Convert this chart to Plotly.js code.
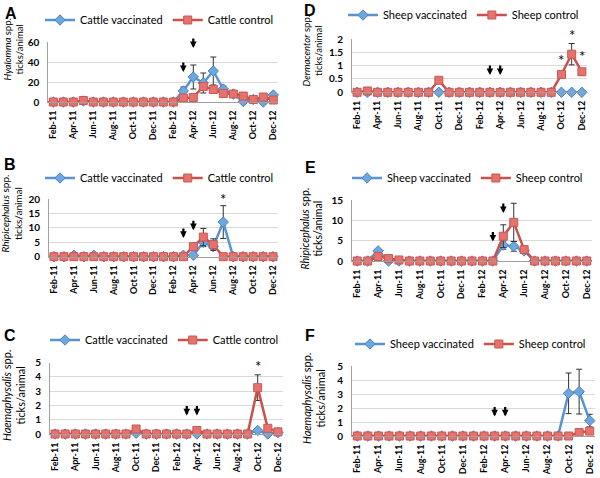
<!DOCTYPE html>
<html>
<head>
<meta charset="utf-8">
<script src="https://cdn.plot.ly/plotly-3.0.1.min.js"></script>
<style>
  html, body { margin: 0; padding: 0; background: #fff; }
  #myDiv { width: 600px; height: 478px; }
</style>
</head>
<body>
<div id="myDiv"></div>
<script>
// months, one point each, labels every second month
var months = ['Feb-11','Mar-11','Apr-11','May-11','Jun-11','Jul-11','Aug-11','Sep-11','Oct-11','Nov-11','Dec-11','Jan-12',
              'Feb-12','Mar-12','Apr-12','May-12','Jun-12','Jul-12','Aug-12','Sep-12','Oct-12','Nov-12','Dec-12'];
var tickMonths = ['Feb-11','Apr-11','Jun-11','Aug-11','Oct-11','Dec-11','Feb-12','Apr-12','Jun-12','Aug-12','Oct-12','Dec-12'];
var n = null;

// A - Hyalomma, cattle
var aVacc = [0,0,0,1,0,0,0,0,0,0,0,0,0,11,25,19,31,13,8,0.5,2.5,0,7];
var aCtrl = [0,0,0,1.5,0,0,0,0,0,0,0,0,0,4,4.5,15.5,12.5,8.5,8,6,2.5,5,2];
var aVaccErr = [n,n,n,n,n,n,n,n,n,n,n,n,n,4,12,10,14,3,n,n,n,n,n];
var aCtrlErr = [n,n,n,n,n,n,n,n,n,n,n,n,n,n,n,n,n,n,n,n,n,n,n];

// B - Rhipicephalus, cattle
var bVacc = [0,0,0.5,0,0.5,0,0,0,0,0,0,0,0,0.5,0.5,5,3.5,12,0,0,0,0,0];
var bCtrl = [0,0,0,0,0,0,0,0,0,0,0,0,0,0,3.5,6.8,4.2,0,0,0,0,0,0];
var bVaccErr = [n,n,n,n,n,n,n,n,n,n,n,n,n,n,n,1.5,n,5.7,n,n,n,n,n];
var bCtrlErr = [n,n,n,n,n,n,n,n,n,n,n,n,n,n,n,3,2,n,n,n,n,n,n];

// C - Haemaphysalis, cattle
var cVacc = [0,0,0,0,0,0,0,0,0.05,0,0,0,0,0,0,0,0,0,0,0,0.25,0,0.1];
var cCtrl = [0,0,0,0,0,0,0,0,0.35,0,0,0,0,0,0.25,0,0,0,0,0,3.25,0.4,0.15];
var cVaccErr = [n,n,n,n,n,n,n,n,n,n,n,n,n,n,n,n,n,n,n,n,n,n,n];
var cCtrlErr = [n,n,n,n,n,n,n,n,n,n,n,n,n,n,n,n,n,n,n,n,0.9,n,n];

// D - Dermacentor, sheep
var dVacc = [0,0,0,0,0,0,0,0,0,0,0,0,0,0,0,0,0,0,0,0,0,0,0];
var dCtrl = [0,0.05,0,0,0,0,0,0,0.45,0,0,0,0,0,0,0,0,0,0,0,0.67,1.43,0.77];
var dVaccErr = [n,n,n,n,n,n,n,n,n,n,n,n,n,n,n,n,n,n,n,n,n,n,n];
var dCtrlErr = [n,n,n,n,n,n,n,n,n,n,n,n,n,n,n,n,n,n,n,n,0.08,0.4,0.12];

// E - Rhipicephalus, sheep
var eVacc = [0,0,2.5,0,0,0,0,0,0,0,0,0,0,0,3.9,3.6,2.5,0,0,0,0,0,0];
var eCtrl = [0,0,1.1,0.6,0.25,0,0,0,0,0,0,0,0,0,6.1,9.5,2.8,0,0,0,0,0,0];
var eVaccErr = [n,n,n,n,n,n,n,n,n,n,n,n,n,n,1,1.2,n,n,n,n,n,n,n];
var eCtrlErr = [n,n,n,n,n,n,n,n,n,n,n,n,n,n,2.8,4.7,n,n,n,n,n,n,n];

// F - Haemaphysalis, sheep
var fVacc = [0,0,0,0,0,0,0,0,0,0,0,0,0,0,0,0,0,0,0,0,3.05,3.17,1.1];
var fCtrl = [0,0,0,0,0,0,0,0,0,0,0,0,0,0,0,0,0,0,0,0,0,0.25,0.35];
var fVaccErr = [n,n,n,n,n,n,n,n,n,n,n,n,n,n,n,n,n,n,n,n,1.45,1.6,0.45];
var fCtrlErr = [n,n,n,n,n,n,n,n,n,n,n,n,n,n,n,n,n,n,n,n,n,n,n];

// vaccination arrows (Mar-12, Apr-12): tip value per panel
var arrowMonths = ['Mar-12','Apr-12'];
var aArrows = [30, 54];
var bArrows = [6.5, 9.2];
var cArrows = [1.3, 1.3];
var dArrows = [0.65, 0.65];
var eArrows = [4.8, 11.8];
var fArrows = [1.4, 1.4];

// significance stars
var bStars = [['Jul-12', 21]];
var cStars = [['Oct-12', 4.95]];
var dStars = [['Oct-12', 1.33], ['Nov-12', 2.27], ['Dec-12', 1.46]];

var W = 600, H = 478;
var FONT = 'Lato, sans-serif';
var BLUE = '#5a93d2', BLUE_MK = '#6ea6de', RED = '#c9504b', RED_MK = '#e7716c';

var panels = [
  {id:'', letter:'A', lx:3, ly:13, vacc:aVacc, ctrl:aCtrl, vErr:aVaccErr, cErr:aCtrlErr, animal:'Cattle',
   x0:48.3, x1:278.3, yb:102, yt:42, ymax:60, dtick:20, legX:40, legY:20,
   tx:12.5, ty:50, genus:'Hyalomma', tsize:9.5, arrows:aArrows, stars:[]},
  {id:'2', letter:'B', lx:2, ly:164, vacc:bVacc, ctrl:bCtrl, vErr:bVaccErr, cErr:bCtrlErr, animal:'Cattle',
   x0:49, x1:278, yb:256.7, yt:199, ymax:20, dtick:5, legX:40, legY:178,
   tx:10.5, ty:214, genus:'Rhipicephalus', tsize:10, arrows:bArrows, stars:bStars},
  {id:'3', letter:'C', lx:2, ly:335, vacc:cVacc, ctrl:cCtrl, vErr:cVaccErr, cErr:cCtrlErr, animal:'Cattle',
   x0:50, x1:283, yb:434, yt:362.7, ymax:5, dtick:1, legX:45, legY:340,
   tx:13, ty:396, genus:'Haemaphysalis', tsize:11, arrows:cArrows, stars:cStars},
  {id:'4', letter:'D', lx:302, ly:10, vacc:dVacc, ctrl:dCtrl, vErr:dVaccErr, cErr:dCtrlErr, animal:'Sheep',
   x0:352, x1:587, yb:92.3, yt:39, ymax:2, dtick:0.5, legX:343, legY:15,
   tx:312.5, ty:51, genus:'Dermacentor', tsize:9.5, arrows:dArrows, stars:dStars},
  {id:'5', letter:'E', lx:303, ly:167, vacc:eVacc, ctrl:eCtrl, vErr:eVaccErr, cErr:eCtrlErr, animal:'Sheep',
   x0:352, x1:592, yb:261, yt:200, ymax:15, dtick:5, legX:347, legY:178,
   tx:311.5, ty:229, genus:'Rhipicephalus', tsize:10.5, arrows:eArrows, stars:[]},
  {id:'6', letter:'F', lx:303, ly:335, vacc:fVacc, ctrl:fCtrl, vErr:fVaccErr, cErr:fCtrlErr, animal:'Sheep',
   x0:352, x1:595, yb:436, yt:366, ymax:5, dtick:1, legX:350, legY:344,
   tx:313, ty:398, genus:'Haemaphysalis', tsize:11, arrows:fArrows, stars:[]}
];

var data = [];
var layout = {
  width: W, height: H,
  margin: {l:0, r:0, t:0, b:0},
  paper_bgcolor: '#fff', plot_bgcolor: '#fff',
  font: {family: FONT, color: '#000'},
  annotations: []
};

panels.forEach(function(p) {
  var xa = 'x' + p.id, ya = 'y' + p.id;
  var leg = 'legend' + p.id;

  data.push({
    x: months, y: p.vacc, xaxis: xa, yaxis: ya, legend: leg,
    type: 'scatter', mode: 'lines+markers', name: p.animal + ' vaccinated',
    cliponaxis: false,
    line: {color: BLUE, width: 2.5},
    marker: {symbol: 'diamond', size: 8, color: BLUE_MK, line: {color: '#4a84c4', width: 1}},
    error_y: {type: 'data', array: p.vErr, color: '#333', thickness: 1, width: 3}
  });
  data.push({
    x: months, y: p.ctrl, xaxis: xa, yaxis: ya, legend: leg,
    type: 'scatter', mode: 'lines+markers', name: p.animal + ' control',
    cliponaxis: false,
    line: {color: RED, width: 2.5},
    marker: {symbol: 'square', size: 8, color: RED_MK, line: {color: '#c65a55', width: 1}},
    error_y: {type: 'data', array: p.cErr, color: '#333', thickness: 1, width: 3}
  });

  layout['xaxis' + p.id] = {
    type: 'category', categoryorder: 'array', categoryarray: months,
    range: [-0.5, months.length - 0.5],
    domain: [p.x0 / W, p.x1 / W], anchor: ya,
    tickmode: 'array', tickvals: tickMonths, ticktext: tickMonths,
    tickangle: -90, ticks: '', ticklabelstandoff: 4,
    tickfont: {family: FONT, size: 9, weight: 'bold', color: '#000'},
    showgrid: false, showline: true, linecolor: '#a0a0a0', linewidth: 1, zeroline: false,
    fixedrange: true
  };
  layout['yaxis' + p.id] = {
    range: [0, p.ymax], tick0: 0, dtick: p.dtick,
    domain: [1 - p.yb / H, 1 - p.yt / H], anchor: xa,
    ticks: '', ticklabelstandoff: 6,
    tickfont: {family: FONT, size: 10, weight: 'bold', color: '#000'},
    showgrid: true, gridcolor: '#d9d9d9', gridwidth: 1,
    showline: true, linecolor: '#a0a0a0', linewidth: 1, zeroline: false,
    fixedrange: true
  };
  layout[leg] = {
    orientation: 'h', x: p.legX / W, y: 1 - p.legY / H, xanchor: 'left', yanchor: 'middle',
    font: {family: FONT, size: 11, color: '#000'}, bgcolor: 'rgba(0,0,0,0)',
    itemwidth: 30, tracegroupgap: 0
  };

  // panel letter
  layout.annotations.push({
    xref: 'paper', yref: 'paper', x: p.lx / W, y: 1 - p.ly / H, xanchor: 'left', yanchor: 'middle',
    text: '<b>' + p.letter + '</b>', showarrow: false,
    font: {family: 'Liberation Sans, Arial, sans-serif', size: 16, color: '#000'}
  });
  // y title
  layout.annotations.push({
    xref: 'paper', yref: 'paper', x: p.tx / W, y: 1 - p.ty / H, xanchor: 'center', yanchor: 'middle',
    text: '<i>' + p.genus + '</i> spp.<br>ticks/animal', textangle: -90, showarrow: false,
    font: {family: FONT, size: p.tsize, color: '#000'}
  });
  // arrows (y given as value, placed through the axis domain so values above the range still show)
  p.arrows.forEach(function(v, i) {
    layout.annotations.push({
      xref: xa, yref: ya + ' domain', x: arrowMonths[i], y: v / p.ymax, text: '', showarrow: true,
      ax: 0, ay: -11, arrowhead: 2, arrowsize: 0.6, arrowwidth: 2.2, arrowcolor: '#000', standoff: 0
    });
  });
  // stars
  p.stars.forEach(function(s) {
    layout.annotations.push({
      xref: xa, yref: ya + ' domain', x: s[0], y: s[1] / p.ymax, text: '*', showarrow: false,
      yanchor: 'middle', yshift: -3, font: {family: FONT, size: 15, color: '#000'}
    });
  });
});

Plotly.newPlot('myDiv', data, layout, {staticPlot: true});
</script>
</body>
</html>
